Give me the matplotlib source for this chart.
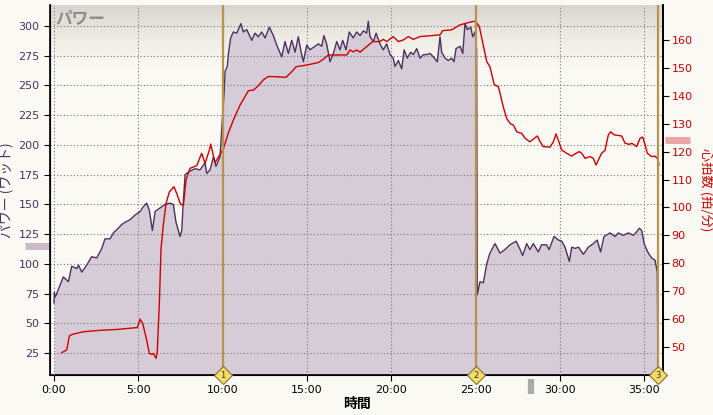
import numpy as np
import matplotlib.pyplot as plt
from matplotlib.transforms import blended_transform_factory
from matplotlib.ticker import FuncFormatter

# 時間 (分) とパワー (W)
power_t = [0.0, 0.02, 0.05, 0.1, 0.55, 0.85, 1.05, 1.35, 1.45, 1.64, 1.94, 2.23, 2.53, 2.83,
           3.02, 3.32, 3.52, 3.81, 4.01, 4.21, 4.5, 4.8, 5.1, 5.29, 5.49, 5.65, 5.83, 5.99,
           6.28, 6.58, 6.88, 7.07, 7.23, 7.47, 7.57, 7.67, 7.77, 8.06, 8.36, 8.65, 8.95,
           9.05, 9.25, 9.45, 9.6, 9.84, 10.0, 10.08, 10.14, 10.27, 10.33, 10.47, 10.63,
           10.83, 11.08, 11.22, 11.42, 11.72, 11.91, 12.11, 12.31, 12.51, 12.76, 13.0,
           13.2, 13.5, 13.69, 13.89, 14.09, 14.29, 14.48, 14.62, 14.78, 14.98, 15.17,
           15.47, 15.67, 15.87, 16.0, 16.16, 16.36, 16.56, 16.76, 16.95, 17.11, 17.31,
           17.5, 17.74, 17.94, 18.14, 18.34, 18.53, 18.63, 18.73, 18.93, 19.09, 19.32,
           19.52, 19.72, 19.92, 20.11, 20.21, 20.41, 20.61, 20.75, 20.94, 21.14, 21.3,
           21.5, 21.7, 21.9, 22.09, 22.29, 22.49, 22.72, 22.88, 22.98, 23.18, 23.37,
           23.57, 23.71, 23.83, 24.07, 24.23, 24.36, 24.5, 24.7, 24.82, 24.96, 25.05,
           25.09, 25.25, 25.45, 25.65, 25.84, 26.14, 26.44, 26.73, 27.03, 27.39, 27.6,
           27.78, 28.02, 28.21, 28.41, 28.71, 28.9, 29.2, 29.35, 29.64, 29.9, 30.1,
           30.29, 30.55, 30.69, 30.89, 31.09, 31.38, 31.67, 31.97, 32.2, 32.4, 32.6,
           32.96, 33.26, 33.45, 33.75, 34.05, 34.35, 34.54, 34.7, 34.84, 34.98, 35.23,
           35.43, 35.63, 35.76, 35.8]
power_w = [67, 76, 72, 73, 89, 85, 98, 96, 99, 93, 99, 106, 105, 113,
           121, 121, 126, 130, 133, 135, 137, 141, 144, 148, 151, 145, 128, 144,
           147, 150, 151, 150, 135, 123, 128, 154, 175, 178, 180, 179, 185,
           176, 179, 190, 182, 190, 227, 243, 262, 266, 276, 290, 295,
           294, 302, 295, 297, 288, 294, 291, 295, 290, 299, 292,
           284, 274, 287, 277, 288, 278, 291, 280, 270, 284, 280,
           283, 285, 283, 292, 285, 270, 277, 287, 280, 288, 280,
           295, 290, 295, 292, 296, 294, 304, 291, 287, 294, 285,
           280, 285, 276, 273, 266, 271, 264, 280, 273, 278, 276,
           281, 273, 276, 276, 277, 274, 270, 291, 278, 273, 271,
           273, 270, 281, 283, 277, 302, 297, 299, 291, 295, 280,
           74, 85, 84, 100, 109, 117, 109, 112, 116, 119, 113,
           107, 117, 112, 117, 110, 116, 116, 112, 123, 120, 119,
           114, 102, 114, 113, 114, 108, 114, 117, 120, 110, 123,
           126, 123, 126, 124, 126, 124, 127, 130, 128, 117, 109,
           105, 103, 93, 12]

# 心拍数 (拍/分)
hr_t = [0.46, 0.75, 0.91, 1.05, 1.74, 2.73, 3.72, 4.94, 5.1, 5.26, 5.49, 5.65, 5.79,
        5.88, 6.05, 6.12, 6.25, 6.34, 6.48, 6.64, 6.84, 7.11, 7.27, 7.51, 7.67, 7.83,
        8.06, 8.46, 8.75, 8.95, 9.21, 9.29, 9.54, 9.74, 10.04, 10.33, 10.63, 11.03,
        11.32, 11.52, 11.82, 12.11, 12.41, 12.7, 13.2, 13.75, 14.09, 14.35, 14.98,
        15.67, 15.97, 16.26, 16.95, 17.35, 17.55, 17.74, 17.94, 18.14, 18.53, 18.89,
        19.32, 19.52, 19.72, 20.11, 20.41, 20.71, 21.0, 21.3, 21.7, 22.88, 23.04,
        23.57, 24.07, 24.57, 24.82, 25.0, 25.21, 25.44, 25.65, 25.84, 26.1, 26.34,
        26.63, 26.83, 27.03, 27.23, 27.43, 27.73, 27.92, 28.21, 28.4, 28.65, 28.82,
        29.0, 29.4, 29.6, 29.76, 29.9, 30.09, 30.39, 30.69, 30.89, 31.14, 31.28,
        31.48, 31.77, 31.97, 32.13, 32.27, 32.46, 32.66, 32.86, 33.0, 33.2, 33.65,
        33.85, 34.1, 34.25, 34.54, 34.74, 34.9, 35.03, 35.17, 35.43, 35.63, 35.8,
        35.86]
hr_bpm = [48, 49, 54, 54.5, 55.5, 56, 56.3, 57, 60, 58.4, 52.5, 47.7, 47.4,
          47.7, 46, 48.5, 67, 85, 94, 101.5, 105.6, 107.4, 105, 101, 101, 110,
          114, 115, 119.4, 115.8, 120.6, 122.7, 116, 118, 121, 126.6, 131.3, 136.7,
          139.7, 141.8, 142, 143.6, 145.7, 146.9, 146.8, 146.6, 148.6, 150.4, 151,
          151.9, 153.1, 154.6, 154.6, 154.6, 156.4, 155.7, 156.4, 155.6, 157.6, 159.4,
          159.4, 160.2, 159.4, 161.2, 159.4, 160, 161.2, 160.2, 161.2, 161.8, 163.3,
          163.6, 165.4, 166.2, 166.6, 166.6, 164.8, 158.2, 152.2, 150.4, 143.9, 143.3,
          136.1, 131.9, 130.1, 129.5, 127.1, 126.5, 124.8, 123.5, 124.4, 125.6, 123.5,
          121.8, 121.6, 123.5, 126.3, 124, 120.6, 119.4, 118.4, 119.2, 120, 119.4,
          117.6, 118.2, 117.6, 115.2, 117, 119.4, 120.4, 126, 127.1, 126, 125.6,
          123, 122.6, 123, 121.8, 124.8, 125.2, 122.6, 119.4, 118.2, 118.4, 117.2,
          115.2]

lap_t = [10.0, 25.0, 35.8]
lap_no = ['1', '2', '3']
power_avg = 115
hr_avg = 124
scroll_t = 28.3

purple = '#4B3060'
red = '#D00000'
bg = '#FBF9F3'

plt.rcParams['font.family'] = ['DejaVu Sans']
jp = ['Noto Sans CJK JP', 'DejaVu Sans']

fig = plt.figure(figsize=(7.13, 4.15), dpi=100, facecolor=bg)
ax = fig.add_axes([50/713, 40/415, 613/713, 370/415])
ax.set_facecolor(bg)

# 上部のグラデーション
grad = np.linspace(0, 1, 100).reshape(-1, 1)
cmap = plt.matplotlib.colors.LinearSegmentedColormap.from_list('g', ['#D8D4CE', '#EEEBE5', bg])
ax.imshow(grad, extent=[0, 1, 0.83, 1.0], transform=ax.transAxes, cmap=cmap,
          aspect='auto', zorder=0)

ax.fill_between(power_t, 0, power_w, color='#D6CCD7', zorder=1, lw=0)
ax.plot(power_t, power_w, color=purple, lw=1.0, zorder=3)

ax.set_xlim(-0.24, 36.1)
ax.set_ylim(6.5, 317.7)
ax.set_yticks(range(25, 301, 25))
ax.set_xticks(range(0, 36, 5))
ax.xaxis.set_major_formatter(FuncFormatter(lambda v, p: f'{int(v)}:00'))
ax.grid(True, ls=(0, (1, 2)), color='#777777', lw=0.8, zorder=2)
ax.set_axisbelow(False)
ax.tick_params(axis='y', colors=purple, labelsize=8, length=4, direction='out')
ax.tick_params(axis='y', color='black')
ax.tick_params(axis='x', labelsize=8, length=4, direction='out')
ax.spines['top'].set_visible(False)
for s in ['left', 'right', 'bottom']:
    ax.spines[s].set_linewidth(1.2)

ax2 = ax.twinx()
ax2.plot(hr_t, hr_bpm, color=red, lw=1.0, zorder=4)
ax2.set_ylim(40, 172.5)
ax2.set_yticks(range(50, 161, 10))
ax2.tick_params(axis='y', colors=red, labelsize=8, length=4, pad=2)
ax2.tick_params(axis='y', color='black')
ax2.spines['top'].set_visible(False)
ax2.spines['right'].set_linewidth(1.2)

# ラップ
for t, n in zip(lap_t, lap_no):
    ax2.axvline(t, color='#B8924E', lw=1.6, zorder=5)
    ax2.plot([t], [40], marker='D', ms=9, mfc='#F2DC6A', mec='#8A7030',
             mew=0.8, clip_on=False, zorder=6)
    ax2.text(t, 40, n, fontsize=6, ha='center', va='center', color='#333333',
             zorder=7, clip_on=False)

# 平均値のマーカー
tr1 = blended_transform_factory(ax.transAxes, ax.transData)
ax.plot([-0.041, 0.0], [power_avg, power_avg], transform=tr1, color='#C9BACA',
        lw=5, solid_capstyle='butt', clip_on=False)
tr2 = blended_transform_factory(ax2.transAxes, ax2.transData)
ax2.plot([1.003, 1.044], [hr_avg, hr_avg], transform=tr2, color='#E8A6A6',
         lw=5, solid_capstyle='butt', clip_on=False)
tr3 = blended_transform_factory(ax.transData, ax.transAxes)
ax.plot([scroll_t, scroll_t], [-0.01, -0.05], transform=tr3, color='#AAAAAA',
        lw=4.5, solid_capstyle='butt', clip_on=False)

ax.text(0.008, 0.99, 'パワー', transform=ax.transAxes, ha='left', va='top',
        fontsize=12, style='italic', fontweight='bold', color='#8E8E8E',
        family=jp, zorder=8)
ax.set_xlabel('時間', family=jp, fontsize=10, fontweight='bold', labelpad=1)
ax.set_ylabel('パワー (ワット)', family=jp, fontsize=10, color=purple)
ax.yaxis.set_label_coords(-0.058, 0.5)
ax2.set_ylabel('心拍数 (拍/分)', family=jp, fontsize=9.5, color=red,
               rotation=270, va='center')
ax2.yaxis.set_label_coords(1.07, 0.5)

fig.savefig('out.png', dpi=100, facecolor=bg)
